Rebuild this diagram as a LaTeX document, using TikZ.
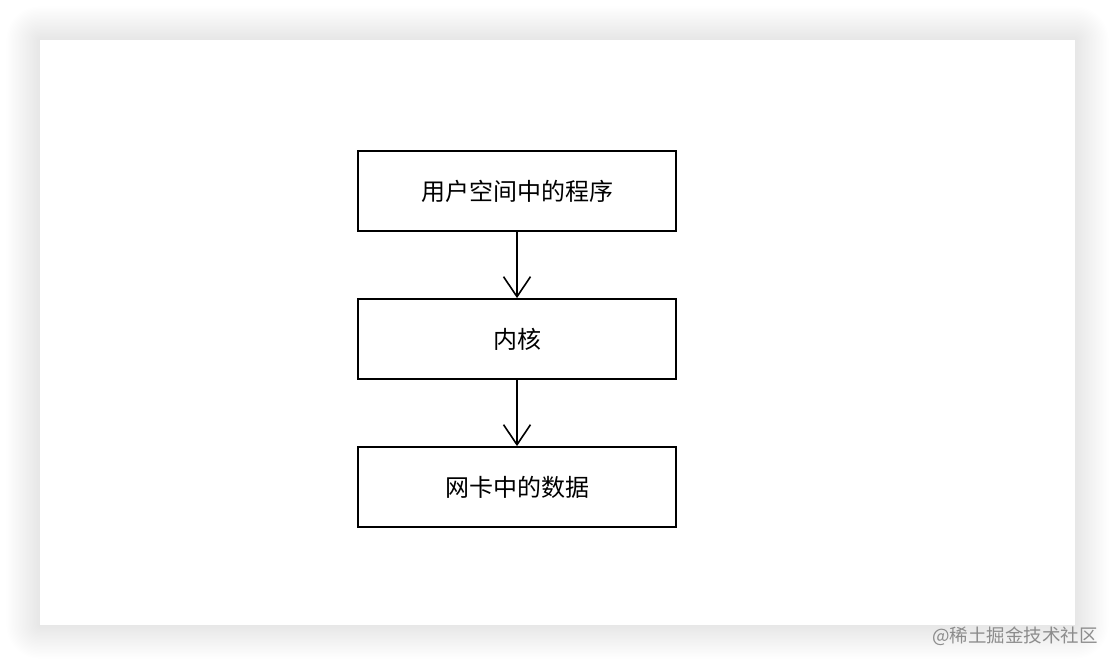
\documentclass[tikz,border=0pt]{standalone}
\usepackage{fontspec}
\newfontfamily\cjk{Noto Sans CJK SC}
\usetikzlibrary{arrows.meta}
\begin{document}
\begin{tikzpicture}[x=1pt,y=-1pt,
  box/.style={draw=black,line width=1.8pt,minimum width=318pt,minimum height=80pt,inner sep=0pt,font=\cjk\fontsize{24}{28}\selectfont},
  conn/.style={draw=black,line width=1.6pt,-{Straight Barb[length=20pt,width=27pt,line width=1.6pt]}}]
\useasboundingbox (0,0) rectangle (1116,666);
\fill[white] (0,0) rectangle (1116,666);
\foreach \i in {1,...,24}{
  \fill[black,opacity=0.0035,rounded corners=\i*1.4pt] ({40-\i*1.4},{40-\i*1.4}) rectangle ({1075+\i*1.4},{625+\i*1.4});
}
\fill[white] (40,40) rectangle (1075,625);
\node[box] (a) at (517,191) {用户空间中的程序};
\node[box] (b) at (517,339) {内核};
\node[box] (c) at (517,487) {网卡中的数据};
\draw[conn] (a) -- (b);
\draw[conn] (b) -- (c);
\node[text=black!45,font=\cjk\fontsize{18.5}{22}\selectfont,anchor=east,inner sep=0pt] (wm) at (1098,636) {@稀土掘金技术社区};
\end{tikzpicture}
\end{document}
